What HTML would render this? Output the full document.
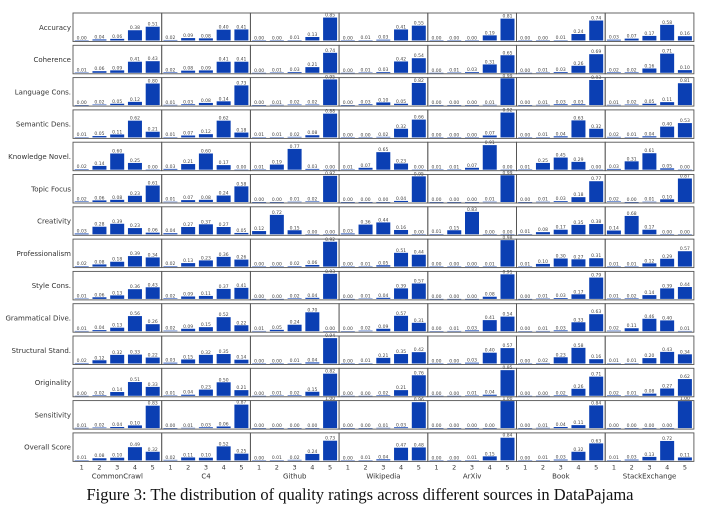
<!DOCTYPE html>
<html><head><meta charset="utf-8">
<style>
html,body{margin:0;padding:0;background:#fff;width:720px;height:523px;overflow:hidden}
svg{display:block}
</style></head>
<body>
<svg id="chart" width="720" height="523" viewBox="0 0 720 523" xmlns="http://www.w3.org/2000/svg" font-family="'DejaVu Sans','Liberation Sans',sans-serif">
<text x="360" y="500" text-anchor="middle" font-family="'Liberation Serif',serif" font-size="16.5" fill="#111">Figure 3: The distribution of quality ratings across different sources in DataPajama</text>
</svg>
<script>
const metrics = ["Accuracy","Coherence","Language Cons.","Semantic Dens.","Knowledge Novel.","Topic Focus","Creativity","Professionalism","Style Cons.","Grammatical Dive.","Structural Stand.","Originality","Sensitivity","Overall Score"];
const sources = ["CommonCrawl","C4","Github","Wikipedia","ArXiv","Book","StackExchange"];
const ratings = ["1","2","3","4","5"];
const commonCrawl = [[0.00,0.04,0.06,0.38,0.51],[0.01,0.06,0.09,0.41,0.43],[0.00,0.02,0.05,0.12,0.80],[0.01,0.05,0.11,0.62,0.21],[0.02,0.14,0.60,0.25,0.00],[0.02,0.06,0.08,0.23,0.61],[0.03,0.28,0.39,0.23,0.06],[0.02,0.08,0.18,0.39,0.34],[0.01,0.06,0.13,0.36,0.43],[0.01,0.04,0.13,0.56,0.26],[0.02,0.12,0.32,0.33,0.22],[0.00,0.02,0.14,0.51,0.33],[0.01,0.02,0.04,0.10,0.83],[0.01,0.08,0.10,0.49,0.32]];
const c4 = [[0.02,0.09,0.08,0.40,0.41],[0.02,0.08,0.09,0.41,0.41],[0.01,0.03,0.08,0.14,0.73],[0.01,0.07,0.12,0.62,0.18],[0.03,0.21,0.60,0.17,0.00],[0.01,0.07,0.08,0.24,0.58],[0.04,0.27,0.37,0.27,0.05],[0.02,0.13,0.23,0.36,0.26],[0.02,0.09,0.11,0.37,0.41],[0.02,0.09,0.15,0.52,0.22],[0.03,0.15,0.32,0.35,0.14],[0.01,0.04,0.23,0.50,0.21],[0.00,0.01,0.03,0.06,0.87],[0.02,0.11,0.10,0.52,0.25]];
const github = [[0.00,0.00,0.01,0.13,0.85],[0.00,0.01,0.03,0.21,0.74],[0.00,0.01,0.02,0.02,0.95],[0.01,0.01,0.02,0.08,0.88],[0.01,0.19,0.77,0.03,0.00],[0.00,0.00,0.01,0.02,0.97],[0.12,0.72,0.15,0.00,0.00],[0.00,0.00,0.02,0.06,0.92],[0.00,0.00,0.02,0.04,0.93],[0.01,0.05,0.24,0.70,0.00],[0.00,0.00,0.01,0.04,0.94],[0.00,0.01,0.02,0.15,0.82],[0.00,0.00,0.00,0.00,1.00],[0.00,0.01,0.02,0.24,0.73]];
const wikipedia = [[0.00,0.01,0.03,0.41,0.55],[0.00,0.01,0.03,0.42,0.54],[0.00,0.03,0.10,0.05,0.82],[0.00,0.00,0.02,0.32,0.66],[0.01,0.07,0.65,0.23,0.00],[0.00,0.00,0.00,0.04,0.95],[0.03,0.36,0.44,0.16,0.00],[0.00,0.01,0.05,0.51,0.44],[0.00,0.01,0.04,0.39,0.57],[0.00,0.02,0.09,0.57,0.31],[0.00,0.01,0.21,0.35,0.42],[0.00,0.00,0.02,0.21,0.76],[0.00,0.00,0.01,0.03,0.96],[0.00,0.01,0.04,0.47,0.48]];
const arxiv = [[0.00,0.00,0.00,0.19,0.81],[0.00,0.01,0.03,0.31,0.65],[0.00,0.00,0.00,0.01,0.99],[0.00,0.00,0.00,0.07,0.92],[0.01,0.01,0.07,0.91,0.00],[0.00,0.00,0.00,0.01,0.99],[0.01,0.15,0.83,0.00,0.00],[0.00,0.00,0.00,0.01,0.98],[0.00,0.00,0.00,0.08,0.91],[0.00,0.01,0.03,0.41,0.54],[0.00,0.00,0.03,0.40,0.57],[0.00,0.00,0.01,0.04,0.95],[0.00,0.00,0.00,0.00,1.00],[0.00,0.00,0.01,0.15,0.84]];
const book = [[0.00,0.00,0.01,0.24,0.74],[0.00,0.01,0.03,0.26,0.69],[0.00,0.01,0.03,0.03,0.93],[0.00,0.01,0.04,0.63,0.32],[0.01,0.25,0.45,0.29,0.00],[0.00,0.01,0.03,0.18,0.77],[0.01,0.08,0.17,0.35,0.38],[0.01,0.10,0.30,0.27,0.31],[0.00,0.01,0.03,0.17,0.79],[0.00,0.01,0.03,0.33,0.63],[0.00,0.02,0.23,0.58,0.16],[0.00,0.00,0.02,0.26,0.71],[0.00,0.01,0.04,0.11,0.84],[0.00,0.01,0.03,0.32,0.63]];
const stackExchange = [[0.03,0.07,0.17,0.58,0.16],[0.02,0.02,0.16,0.71,0.10],[0.01,0.02,0.05,0.11,0.81],[0.02,0.01,0.04,0.40,0.53],[0.03,0.31,0.61,0.05,0.00],[0.02,0.00,0.01,0.10,0.87],[0.14,0.68,0.17,0.00,0.00],[0.01,0.01,0.12,0.29,0.57],[0.01,0.02,0.14,0.39,0.44],[0.02,0.11,0.46,0.40,0.01],[0.01,0.01,0.20,0.43,0.34],[0.02,0.01,0.08,0.27,0.62],[0.00,0.00,0.00,0.00,1.00],[0.01,0.03,0.13,0.72,0.11]];
const seriesBySource = [commonCrawl,c4,github,wikipedia,arxiv,book,stackExchange];

const NS="http://www.w3.org/2000/svg";
const svg=document.getElementById('chart');
const left=73, panelW=88.7, top0=13, pitch=32.3, panelH=28.5;
function panelX(c){return left+c*panelW;}
function panelY(r){return top0+r*pitch;}
function xBar(c,i){return panelX(c)+8.7+i*17.75;}
function yVal(r,v){return panelY(r)+panelH-1-v*27;}
function mk(tag,attrs){const e=document.createElementNS(NS,tag);for(const k in attrs)e.setAttribute(k,attrs[k]);svg.appendChild(e);return e;}

for(let r=0;r<metrics.length;r++){
  const lab=mk('text',{x:71,y:panelY(r)+panelH/2+2.5,'text-anchor':'end','font-size':7,fill:'#333'});
  
  
  lab.textContent=metrics[r];
  for(let c=0;c<sources.length;c++){
    const vals=seriesBySource[c][r];
    for(let i=0;i<5;i++){
      const v=vals[i];
      const y=yVal(r,v), base=yVal(r,0);
      const b=mk('rect',{x:xBar(c,i)-7,y:y,width:14,height:Math.max(base-y,0.4),fill:'#0b3fb3'});
      
      
      const t=mk('text',{x:xBar(c,i),y:y-1,'text-anchor':'middle','font-size':4.5,fill:'#444'});
      
      
      t.textContent=v.toFixed(2);
    }
    const p=mk('rect',{x:panelX(c),y:panelY(r),width:panelW,height:panelH,fill:'none',stroke:'#555','stroke-width':0.9});
    
    
  }
}
const lastY=panelY(metrics.length-1)+panelH;
for(let c=0;c<sources.length;c++){
  for(let i=0;i<5;i++){
    const t=mk('text',{x:xBar(c,i),y:lastY+8,'text-anchor':'middle','font-size':6.5,fill:'#333'});
    
    
    t.textContent=ratings[i];
  }
  const s=mk('text',{x:panelX(c)+panelW/2,y:lastY+17,'text-anchor':'middle','font-size':7,fill:'#333'});
  
  
  s.textContent=sources[c];
}
</script>
</body></html>
